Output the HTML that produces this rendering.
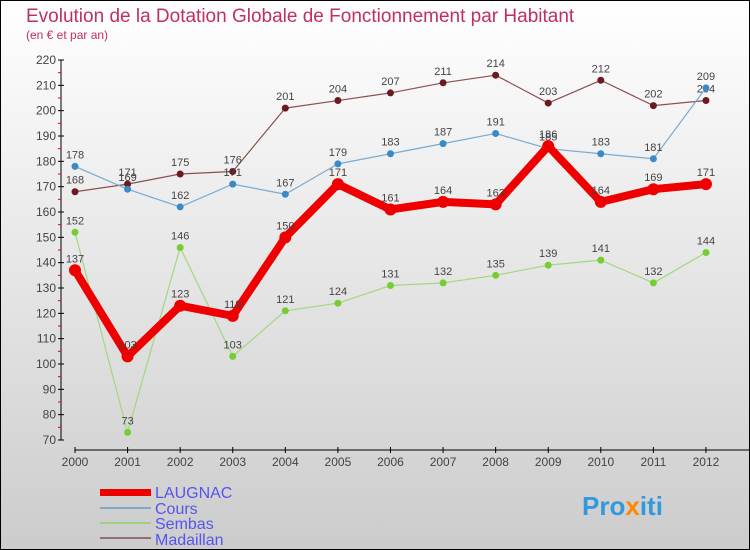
<!DOCTYPE html>
<html><head><meta charset="utf-8"><style>
body{margin:0}
#c{width:750px;height:550px;position:relative;background:linear-gradient(#ffffff,#cccccc);box-sizing:border-box;border:1px solid #000;font-family:"Liberation Sans",sans-serif;overflow:hidden}
</style></head><body>
<div id="c">
<svg width="750" height="550" style="position:absolute;left:-1px;top:-1px" id="s">
<text x="26" y="22" font-size="19" fill="#c0305a">Evolution de la Dotation Globale de Fonctionnement par Habitant</text>
<text x="26" y="39" font-size="12" fill="#c0305a">(en € et par an)</text>
<g id="axes"></g><g id="series"></g>
<g>
<rect x="100" y="489" width="51" height="7" fill="#e00"/>
<text x="155" y="498" font-size="16" fill="#5555ee">LAUGNAC</text>
<rect x="100" y="507" width="51" height="2" fill="#80a8c8"/>
<text x="155" y="514" font-size="16" fill="#5555ee">Cours</text>
<rect x="100" y="522" width="51" height="2" fill="#a0d080"/>
<text x="155" y="529" font-size="16" fill="#5555ee">Sembas</text>
<rect x="100" y="537" width="51" height="2" fill="#907070"/>
<text x="155" y="545" font-size="16" fill="#5555ee">Madaillan</text>
</g>
<text x="582" y="515" font-size="26" font-weight="bold" fill="#3399dd">Pro<tspan fill="#ff8800">x</tspan>iti</text>
</svg>
</div>
<script>
const years=[2000,2001,2002,2003,2004,2005,2006,2007,2008,2009,2010,2011,2012];
const laugnac=[137,103,123,119,150,171,161,164,163,186,164,169,171];
const cours=[178,169,162,171,167,179,183,187,191,185,183,181,209];
const sembas=[152,73,146,103,121,124,131,132,135,139,141,132,144];
const madaillan=[168,171,175,176,201,204,207,211,214,203,212,202,204];
const yTicks=[70,80,90,100,110,120,130,140,150,160,170,180,190,200,210,220];
const NS="http://www.w3.org/2000/svg";
const X=i=>75+i*52.58, Y=v=>440-(v-70)*380/150;
function mk(t,a,p){const e=document.createElementNS(NS,t);for(const k in a)e.setAttribute(k,a[k]);p.appendChild(e);return e;}
const ax=document.getElementById('axes'),sr=document.getElementById('series');
const yl=mk('line',{x1:61,y1:Y(220),x2:61,y2:Y(70),stroke:'#000'},ax);


yTicks.forEach(v=>{mk('line',{x1:58,x2:64,y1:Y(v),y2:Y(v),stroke:'#000'},ax);
 if(v<220)mk('line',{x1:58,x2:61,y1:Y(v+5),y2:Y(v+5),stroke:'#e00'},ax);
 const t=mk('text',{x:56,y:Y(v)+4,'text-anchor':'end','font-size':12,fill:'#444'},ax);t.textContent=v;
 
 });
const xl=mk('line',{x1:75,y1:450,x2:750,y2:450,stroke:'#000'},ax);


years.forEach((y,i)=>{mk('line',{x1:X(i),x2:X(i),y1:447,y2:453,stroke:'#000'},ax);
 const t=mk('text',{x:X(i),y:466,'text-anchor':'middle','font-size':12,fill:'#444'},ax);t.textContent=y;
 
 });
function ser(d,name,col,dot,w,r){const g=mk('g',{},sr);
 
 
 mk('polyline',{points:d.map((v,i)=>X(i)+','+Y(v)).join(' '),fill:'none',stroke:col,'stroke-width':w,'stroke-linejoin':'round'},g);
 d.forEach((v,i)=>{const c=mk('circle',{cx:X(i),cy:Y(v),r:r,fill:dot},g);
  
  
  const t=mk('text',{x:X(i),y:Y(v)-8,'text-anchor':'middle','font-size':11,fill:'#444'},g);t.textContent=v;
  
  });}
ser(madaillan,'madaillan','#8a5050','#6a1a20',1.2,3.5);
ser(cours,'cours','#7aaad0','#3a8ac8',1.2,3.5);
ser(sembas,'sembas','#a0d880','#77cc33',1.2,3.5);
ser(laugnac,'laugnac','#ee0000','#ee0000',8,6);
</script>
</body></html>
